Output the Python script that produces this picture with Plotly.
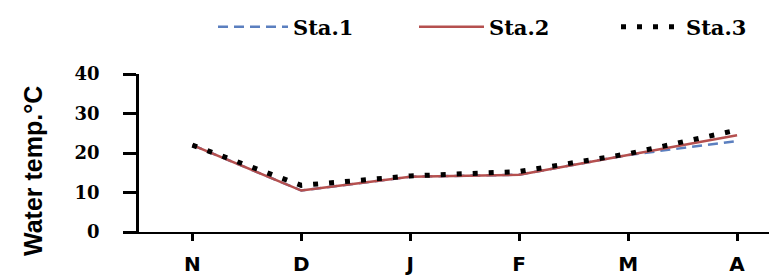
import plotly.graph_objects as go

months = ["N", "D", "J", "F", "M", "A"]
sta1 = [22, 10.5, 14, 14.5, 19.5, 23]
sta2 = [22, 10.5, 14, 14.5, 19.5, 24.5]
sta3 = [22, 11.8, 14.2, 15.3, 19.8, 25.8]
y_ticks = [0, 10, 20, 30, 40]

W, H = 777, 280
legend_font = dict(family="DejaVu Serif", size=21, color="black", weight="bold")

fig = go.Figure()
fig.add_trace(go.Scatter(x=months, y=sta1, name="Sta.1", mode="lines", legend="legend",
                         line=dict(color="#5b7fbf", width=2.5, dash="10px,6px")))
fig.add_trace(go.Scatter(x=months, y=sta2, name="Sta.2", mode="lines", legend="legend2",
                         line=dict(color="#b5504f", width=2.5)))
fig.add_trace(go.Scatter(x=months, y=sta3, name="Sta.3", mode="lines", legend="legend3",
                         line=dict(color="black", width=5, dash="5px,11px")))


def leg(px, iw):
    return dict(orientation="h", xref="container", yref="container",
                x=px / W, y=1 - 19 / H, xanchor="left", yanchor="middle",
                itemwidth=iw, font=legend_font, bgcolor="rgba(0,0,0,0)")


fig.update_layout(
    width=W, height=H,
    margin=dict(l=131, r=0, t=66, b=56, autoexpand=False),
    paper_bgcolor="white", plot_bgcolor="white",
    showlegend=True,
    legend=leg(205, 70),
    legend2=leg(406, 65),
    legend3=leg(608, 60),
    xaxis=dict(type="category", range=[-0.49, 5.44], showline=True, linecolor="black",
               linewidth=2, ticks="outside", ticklen=7, tickwidth=2.5, tickcolor="black",
               showgrid=False, zeroline=False, automargin=False, ticklabelstandoff=6,
               tickfont=dict(family="DejaVu Sans", size=20, color="black", weight="bold")),
    yaxis=dict(range=[0, 40], tickvals=y_ticks, showline=True, linecolor="black",
               linewidth=2.5, ticks="outside", ticklen=13, tickwidth=2.5, tickcolor="black",
               showgrid=False, zeroline=False, automargin=False, ticklabelstandoff=20,
               tickfont=dict(family="DejaVu Serif", size=18, color="black", weight="bold")),
    annotations=[dict(text="Water temp.°C", textangle=-90, showarrow=False,
                      xref="paper", yref="paper",
                      x=(25 - 131) / 646, y=(224 - 163) / 158,
                      xanchor="center", yanchor="middle",
                      font=dict(family="Liberation Sans", size=25, color="black", weight="bold"))],
)

fig.write_html("out.html")
